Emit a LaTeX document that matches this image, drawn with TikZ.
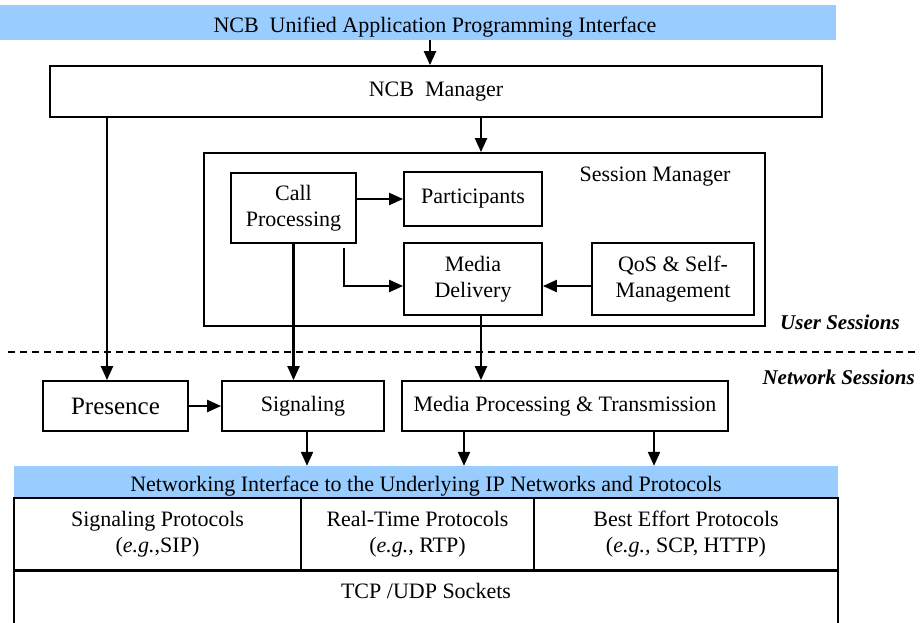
\documentclass[tikz,border=0pt]{standalone}
\usepackage{fontspec}
\setmainfont{Liberation Serif}
\usetikzlibrary{arrows.meta}
\definecolor{barblue}{RGB}{153,204,255}

\begin{document}
\begin{tikzpicture}[
  x=1pt, y=-1pt,
  every node/.style = {align=center, inner sep=0pt, font=\fontsize{22}{26}\selectfont},
  box/.style = {shape=rectangle, draw, line width=1.8pt},
  bar/.style = {shape=rectangle, fill=barblue},
  link/.style = {line width=2.2pt, -{Triangle[length=14pt,width=12pt]}},
  tag/.style = {anchor=east, font=\fontsize{21}{25}\selectfont\bfseries\itshape}
]
  \useasboundingbox (0,0) rectangle (920,622);
  \node[bar, minimum width=836, minimum height=35] (api) at (418,22.5) {\hspace*{34pt}\raisebox{-9.5pt}[0pt][0pt]{NCB\ \ Unified Application Programming Interface}};
  \node[box, minimum width=772, minimum height=51] (mgr) at (436,91.5) {NCB\ \ Manager};
  \node[box, minimum width=561, minimum height=173] (sess) at (484.5,239.5) {};
  \node (sesslabel) at (655,177) {Session Manager};
  \node[box, minimum width=125, minimum height=70] (call) at (293.5,208) {Call\\Processing};
  \node[box, minimum width=138, minimum height=54] (part) at (473,199) {Participants};
  \node[box, minimum width=138, minimum height=72] (media) at (473,279) {Media\\Delivery};
  \node[box, minimum width=162, minimum height=72] (qos) at (673,279) {QoS \& Self-\\Management};
  \node[tag] (user) at (900,322) {User Sessions};
  \coordinate (dashl) at (8,352);
  \coordinate (dashr) at (918,352);
  \node[tag] (network) at (915,377) {Network Sessions};
  \node[box, minimum width=145, minimum height=50, font=\fontsize{25}{30}\selectfont] (pres) at (115.5,406) {Presence};
  \node[box, minimum width=162, minimum height=50] (sig) at (303,406) {Signaling};
  \node[box, minimum width=326, minimum height=50] (proc) at (565,406) {Media Processing \& Transmission};
  \node[bar, minimum width=824, minimum height=32] (net) at (426,482) {\raisebox{-9.5pt}[0pt][0pt]{Networking Interface to the Underlying IP Networks and Protocols}};
  \node[box, minimum width=287, minimum height=72] (sigp) at (157.5,534) {Signaling Protocols\\(\textit{e.g.},SIP)};
  \node[box, minimum width=233, minimum height=72] (rtp) at (417.5,534) {Real-Time Protocols\\(\textit{e.g.,} RTP)};
  \node[box, minimum width=304, minimum height=72] (bep) at (686,534) {Best Effort Protocols\\(\textit{e.g.,} SCP, HTTP)};
  \node[box, minimum width=824, minimum height=60, anchor=north] (tcp) at (426,570) {};
  \node[anchor=north] (tcplabel) at ([yshift=-13pt]tcp.north) {TCP /UDP Sockets};

  \coordinate (presin) at ([xshift=-8.5pt]pres.north);
  \coordinate (callout) at ([xshift=-13pt,yshift=-4pt]call.south east);
  \coordinate (mediaout) at ([xshift=8pt]media.south);
  \coordinate (sigout) at ([xshift=4pt]sig.south);
  \coordinate (procl) at ([xshift=-101pt]proc.south);
  \coordinate (procr) at ([xshift=89pt]proc.south);

  \draw[link] ([xshift=12pt]api.south) -- ([xshift=-6pt]mgr.north);
  \draw[link] ([xshift=45pt]mgr.south) -- ([xshift=-3.5pt]sess.north);
  \draw[link] (presin |- mgr.south) -- (presin);
  \draw[link] (call.east |- part.west) -- (part.west);
  \draw[link] (callout) |- ([yshift=-7pt]media.west);
  \draw[link] ([yshift=-7pt]qos.west) -- ([yshift=-7pt]media.east);
  \draw[link] (call.south) -- (call.south |- sig.north);
  \draw[link] (mediaout) -- (mediaout |- proc.north);
  \draw[line width=1.5pt, dash pattern=on 7pt off 5pt] (dashl) -- (dashr);
  \draw[link] (pres.east) -- (sig.west);
  \draw[link] (sigout) -- (sigout |- net.north);
  \draw[link] (procl) -- (procl |- net.north);
  \draw[link] (procr) -- (procr |- net.north);
\end{tikzpicture}
\end{document}
